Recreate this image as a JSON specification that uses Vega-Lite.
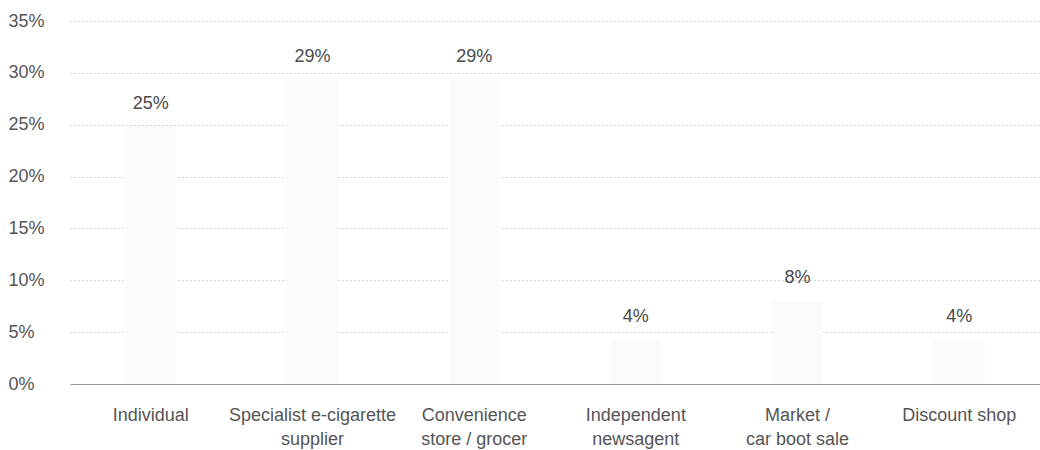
{
  "$schema": "https://vega.github.io/schema/vega-lite/v6.json",
  "autosize": {"type": "none"},
  "width": 970,
  "height": 363,
  "padding": {"left": 70, "top": 21, "right": 0, "bottom": 66},
  "background": "#ffffff",
  "config": {
    "view": {"stroke": null},
    "font": "Liberation Sans"
  },
  "data": {
    "values": [
      {"source": "Individual", "share": 0.248},
      {"source": "Specialist e-cigarette supplier", "share": 0.293},
      {"source": "Convenience store / grocer", "share": 0.293},
      {"source": "Independent newsagent", "share": 0.0424},
      {"source": "Market / car boot sale", "share": 0.0803},
      {"source": "Discount shop", "share": 0.0424}
    ]
  },
  "encoding": {
    "x": {
      "field": "source",
      "type": "nominal",
      "sort": null,
      "scale": {"paddingInner": 0.685, "paddingOuter": 0.3425},
      "axis": {
        "title": null,
        "labelAngle": 0,
        "ticks": false,
        "grid": false,
        "domain": true,
        "domainColor": "#999999",
        "domainWidth": 1,
        "labelFont": "Liberation Sans",
        "labelFontSize": 18,
        "labelColor": "#555555",
        "labelPadding": 22,
        "labelLineHeight": 24,
        "labelLimit": 300,
        "labelExpr": "datum.label == 'Specialist e-cigarette supplier' ? ['Specialist e-cigarette', 'supplier'] : datum.label == 'Convenience store / grocer' ? ['Convenience', 'store / grocer'] : datum.label == 'Independent newsagent' ? ['Independent', 'newsagent'] : datum.label == 'Market / car boot sale' ? ['Market /', 'car boot sale'] : datum.label"
      }
    },
    "y": {
      "field": "share",
      "type": "quantitative",
      "scale": {"domain": [0, 0.35], "nice": false},
      "axis": {
        "title": null,
        "format": ".0%",
        "values": [0, 0.05, 0.1, 0.15, 0.2, 0.25, 0.3, 0.35],
        "ticks": false,
        "domain": false,
        "grid": true,
        "gridColor": "#aaaaaa",
        "gridDash": [1, 3],
        "gridWidth": 1,
        "labelAlign": "left",
        "labelBaseline": "middle",
        "labelPadding": 62,
        "labelFont": "Liberation Sans",
        "labelFontSize": 18,
        "labelColor": "#555555"
      }
    }
  },
  "layer": [
    {
      "mark": {"type": "bar", "color": "#fafafa"}
    },
    {
      "mark": {
        "type": "text",
        "baseline": "alphabetic",
        "align": "center",
        "dy": -18,
        "fontSize": 18,
        "font": "Liberation Sans",
        "color": "#4a4a4a"
      },
      "encoding": {
        "text": {"field": "share", "type": "quantitative", "format": ".0%"}
      }
    }
  ]
}
